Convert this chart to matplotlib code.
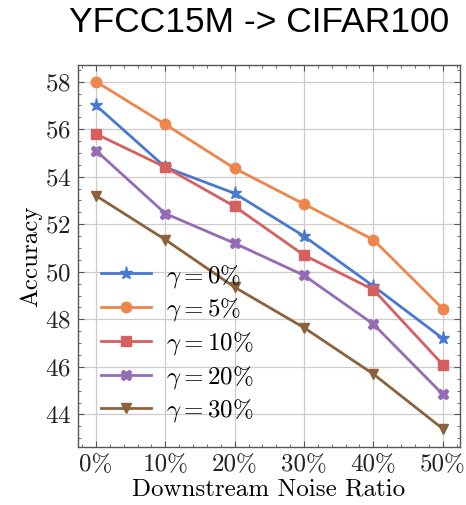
import numpy as np
import matplotlib
matplotlib.use("Agg")
import matplotlib.pyplot as plt

# accuracy vs. downstream noise ratio for each pre-training noise level
noise_ratio = [0, 10, 20, 30, 40, 50]
tick_labels = ["0%", "10%", "20%", "30%", "40%", "50%"]
acc_g0 = [57.0, 54.4, 53.3, 51.5, 49.4, 47.2]
acc_g5 = [58.0, 56.2, 54.35, 52.85, 51.35, 48.45]
acc_g10 = [55.8, 54.4, 52.75, 50.7, 49.25, 46.1]
acc_g20 = [55.1, 52.45, 51.2, 49.85, 47.8, 44.85]
acc_g30 = [53.2, 51.35, 49.35, 47.65, 45.7, 43.4]
gammas = ["0", "5", "10", "20", "30"]

plt.rcParams.update({
    "font.family": "serif",
    "font.serif": ["cmr10"],
    "mathtext.fontset": "cm",
    "axes.formatter.use_mathtext": True,
    "font.size": 18,
    "axes.linewidth": 1.0,
    "axes.edgecolor": "#555555",
    "xtick.direction": "in",
    "ytick.direction": "in",
    "xtick.top": True,
    "ytick.right": True,
    "xtick.minor.visible": True,
    "ytick.minor.visible": True,
    "xtick.color": "#555555",
    "ytick.color": "#555555",
    "xtick.labelcolor": "#222222",
    "ytick.labelcolor": "#222222",
})

colors = ["#4878d0", "#ee854a", "#d65f5f", "#956cb4", "#8c613c"]
markers = ["*", "o", "s", "X", "v"]
series = [acc_g0, acc_g5, acc_g10, acc_g20, acc_g30]

fig = plt.figure(figsize=(4.66, 5.05), dpi=100)
ax = fig.add_axes([78 / 466, 58 / 505, 382 / 466, 382 / 505])

for acc, g, c, m in zip(series, gammas, colors, markers):
    ax.plot(noise_ratio, acc, color=c, marker=m, markersize=7.5 if m != "*" else 9.5,
            lw=2, label=rf"$\gamma = {g}\%$")

ax.set_xlim(-2.6, 52.5)
ax.set_ylim(42.63, 58.7)
ax.set_xticks(noise_ratio)
ax.set_xticklabels(tick_labels)
ax.set_yticks(np.arange(44, 59, 2))
ax.xaxis.set_minor_locator(matplotlib.ticker.MultipleLocator(2))
ax.yaxis.set_minor_locator(matplotlib.ticker.MultipleLocator(0.5))
ax.tick_params(which="major", length=4, pad=5)
ax.tick_params(which="minor", length=2)
ax.grid(True, which="major", color="#cccccc", lw=0.9)

ax.set_xlabel("Downstream Noise Ratio", labelpad=2)
ax.set_ylabel("Accuracy", labelpad=2)

ax.legend(loc="lower left", frameon=False, handlelength=2.0,
          labelspacing=0.27, handletextpad=0.62, borderaxespad=0.6,
          borderpad=0.3)

fig.text(259 / 466, 1 - 22 / 505, "YFCC15M -> CIFAR100", ha="center", va="center",
         family="Liberation Sans", fontsize=25.5)

fig.savefig("out.png", dpi=100)
